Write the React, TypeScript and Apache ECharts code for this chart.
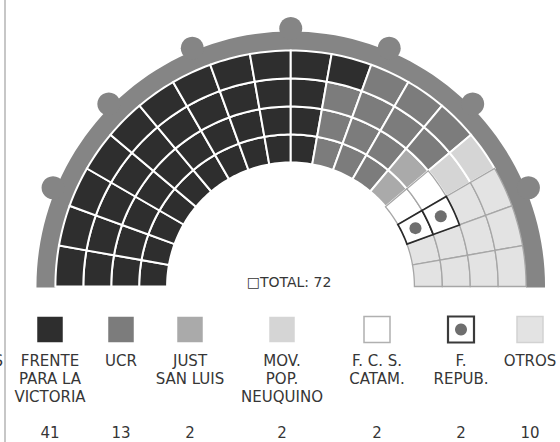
import React, { useEffect, useRef } from "react";
import * as echarts from "echarts";

// ---- data ----
const partyNames = [
  "FRENTE\nPARA LA\nVICTORIA",
  "UCR",
  "JUST\nSAN LUIS",
  "MOV.\nPOP.\nNEUQUINO",
  "F. C. S.\nCATAM.",
  "F.\nREPUB.",
  "OTROS",
];
const partySeats = [41, 13, 2, 2, 2, 2, 10];
const partyColors = ["#2e2e2e", "#7c7c7c", "#aaaaaa", "#d5d5d5", "#ffffff", "#ffffff", "#e3e3e3"];
// party index per seat: 18 columns (left -> right), rings inner -> outer
const seatColumns = [
  [0, 0, 0, 0], [0, 0, 0, 0], [0, 0, 0, 0], [0, 0, 0, 0], [0, 0, 0, 0],
  [0, 0, 0, 0], [0, 0, 0, 0], [0, 0, 0, 0], [0, 0, 0, 0], [0, 0, 0, 0],
  [1, 1, 1, 0],
  [1, 1, 1, 1], [1, 1, 1, 1],
  [2, 2, 1, 1],
  [4, 4, 3, 3],
  [5, 5, 6, 6],
  [6, 6, 6, 6], [6, 6, 6, 6],
];
const totalLabel = "□TOTAL: 72";

// ---- layout ----
const R_IN = 124;
const RING_W = 28;
const N_COLS = seatColumns.length;
const COL_DEG = 180 / N_COLS;
const BAND_IN = 236;
const BAND_OUT = 255;
const KNOB_R = 11.5;
const KNOB_DIST = 258;
const KNOB_ANGLES = [22.5, 45, 67.5, 90, 112.5, 135, 157.5];
const legendX = [50, 121, 190, 282, 377, 461, 530];

const FONT = "DejaVu Sans";
const TEXT_COLOR = "#363636";
const FS = 15;

function rad(d: number) {
  return (d * Math.PI) / 180;
}

export default function App() {
  const ref = useRef<HTMLDivElement>(null);

  useEffect(() => {
    if (!ref.current) return;
    const chart = echarts.init(ref.current, null, { renderer: "svg" });

    const seatData: number[][] = [];
    seatColumns.forEach((col, c) => {
      col.forEach((p, k) => {
        seatData.push([c, k, p]);
      });
    });

    const pt = (api: any, r: number, a: number) =>
      api.coord([r * Math.cos(rad(a)), r * Math.sin(rad(a))]);

    const renderSeat = (params: any, api: any) => {
      const c = api.value(0);
      const k = api.value(1);
      const p = api.value(2);
      const a0 = 180 - c * COL_DEG;
      const a1 = a0 - COL_DEG;
      const r0 = R_IN + k * RING_W;
      const r1 = r0 + RING_W;
      const pts: number[][] = [];
      const steps = 8;
      for (let i = 0; i <= steps; i++) pts.push(pt(api, r1, a0 + ((a1 - a0) * i) / steps));
      for (let i = steps; i >= 0; i--) pts.push(pt(api, r0, a0 + ((a1 - a0) * i) / steps));
      let stroke = "#ffffff";
      let lw = 2;
      let z2 = 0;
      if (p === 4 || p === 6) {
        stroke = "#a6a6a6";
        lw = 1.3;
        z2 = 1;
      } else if (p === 5) {
        stroke = "#2a2a2a";
        lw = 1.7;
        z2 = 2;
      }
      const poly = {
        type: "polygon",
        z2,
        shape: { points: pts },
        style: { fill: partyColors[p], stroke, lineWidth: lw, lineJoin: "miter" },
      };
      if (p === 5) {
        const cc = pt(api, (r0 + r1) / 2, (a0 + a1) / 2);
        return {
          type: "group",
          children: [
            poly,
            { type: "circle", z2: 3, shape: { cx: cc[0], cy: cc[1], r: 6 }, style: { fill: "#6e6e6e" } },
          ],
        };
      }
      return poly;
    };

    const renderBand = (params: any, api: any) => {
      const pts: number[][] = [];
      const steps = 90;
      pts.push(api.coord([BAND_OUT, -1]));
      for (let i = 0; i <= steps; i++) pts.push(pt(api, BAND_OUT, (180 * i) / steps));
      pts.push(api.coord([-BAND_OUT, -1]));
      pts.push(api.coord([-BAND_IN, -1]));
      for (let i = steps; i >= 0; i--) pts.push(pt(api, BAND_IN, (180 * i) / steps));
      pts.push(api.coord([BAND_IN, -1]));
      const children: any[] = [
        { type: "polygon", shape: { points: pts }, style: { fill: "#858585" } },
      ];
      KNOB_ANGLES.forEach((a) => {
        const c = pt(api, KNOB_DIST, a);
        children.push({ type: "circle", shape: { cx: c[0], cy: c[1], r: KNOB_R }, style: { fill: "#858585" } });
      });
      return { type: "group", children };
    };

    const graphics: any[] = [
      {
        type: "line",
        shape: { x1: 5, y1: 0, x2: 5, y2: 442 },
        style: { stroke: "#b4b4b4", lineWidth: 1.5 },
      },
      {
        type: "text",
        x: 3,
        y: 361,
        style: { text: "S", font: `${FS}px "${FONT}"`, fill: TEXT_COLOR, align: "right", verticalAlign: "middle" },
      },
      {
        type: "text",
        x: 289,
        y: 282,
        style: { text: totalLabel, font: `${FS - 1}px "${FONT}"`, fill: TEXT_COLOR, align: "center", verticalAlign: "middle" },
      },
    ];

    partyNames.forEach((name, i) => {
      const x = legendX[i];
      const outlined = i >= 4;
      const size = outlined ? 26 : 24;
      const stroke = i === 5 ? "#3a3a3a" : i === 4 ? "#b0b0b0" : i === 6 ? "#d2d2d2" : partyColors[i];
      graphics.push({
        type: "rect",
        shape: { x: x - size / 2, y: 329.5 - size / 2, width: size, height: size },
        style: { fill: partyColors[i], stroke, lineWidth: i === 5 ? 2.2 : 1.5 },
      });
      if (i === 5) {
        graphics.push({
          type: "circle",
          shape: { cx: x, cy: 329.5, r: 6 },
          style: { fill: "#6e6e6e" },
        });
      }
      graphics.push({
        type: "text",
        x,
        y: 352,
        style: {
          text: name,
          font: `${FS}px "${FONT}"`,
          fill: TEXT_COLOR,
          align: "center",
          verticalAlign: "top",
          lineHeight: 18,
        },
      });
      graphics.push({
        type: "text",
        x,
        y: 433,
        style: {
          text: String(partySeats[i]),
          font: `${FS}px "${FONT}"`,
          fill: TEXT_COLOR,
          align: "center",
          verticalAlign: "middle",
        },
      });
    });

    const span = 270;
    const cx = 291.5;
    const baseY = 286.5;

    chart.setOption({
      animation: false,
      backgroundColor: "#ffffff",
      grid: {
        left: cx - span,
        width: span * 2,
        top: baseY - span,
        height: span,
      },
      xAxis: { type: "value", min: -span, max: span, show: false },
      yAxis: { type: "value", min: 0, max: span, show: false },
      series: [
        {
          type: "custom",
          coordinateSystem: "cartesian2d",
          data: [[0, 0]],
          renderItem: renderBand,
          silent: true,
          clip: false,
          z: 1,
        },
        {
          type: "custom",
          coordinateSystem: "cartesian2d",
          data: seatData,
          renderItem: renderSeat,
          silent: true,
          clip: false,
          z: 2,
        },
      ],
      graphic: graphics,
    });

    return () => chart.dispose();
  }, []);

  return (
    <div
      ref={ref}
      style={{ position: "fixed", left: 0, top: 0, width: 560, height: 442, background: "#fff" }}
    />
  );
}
